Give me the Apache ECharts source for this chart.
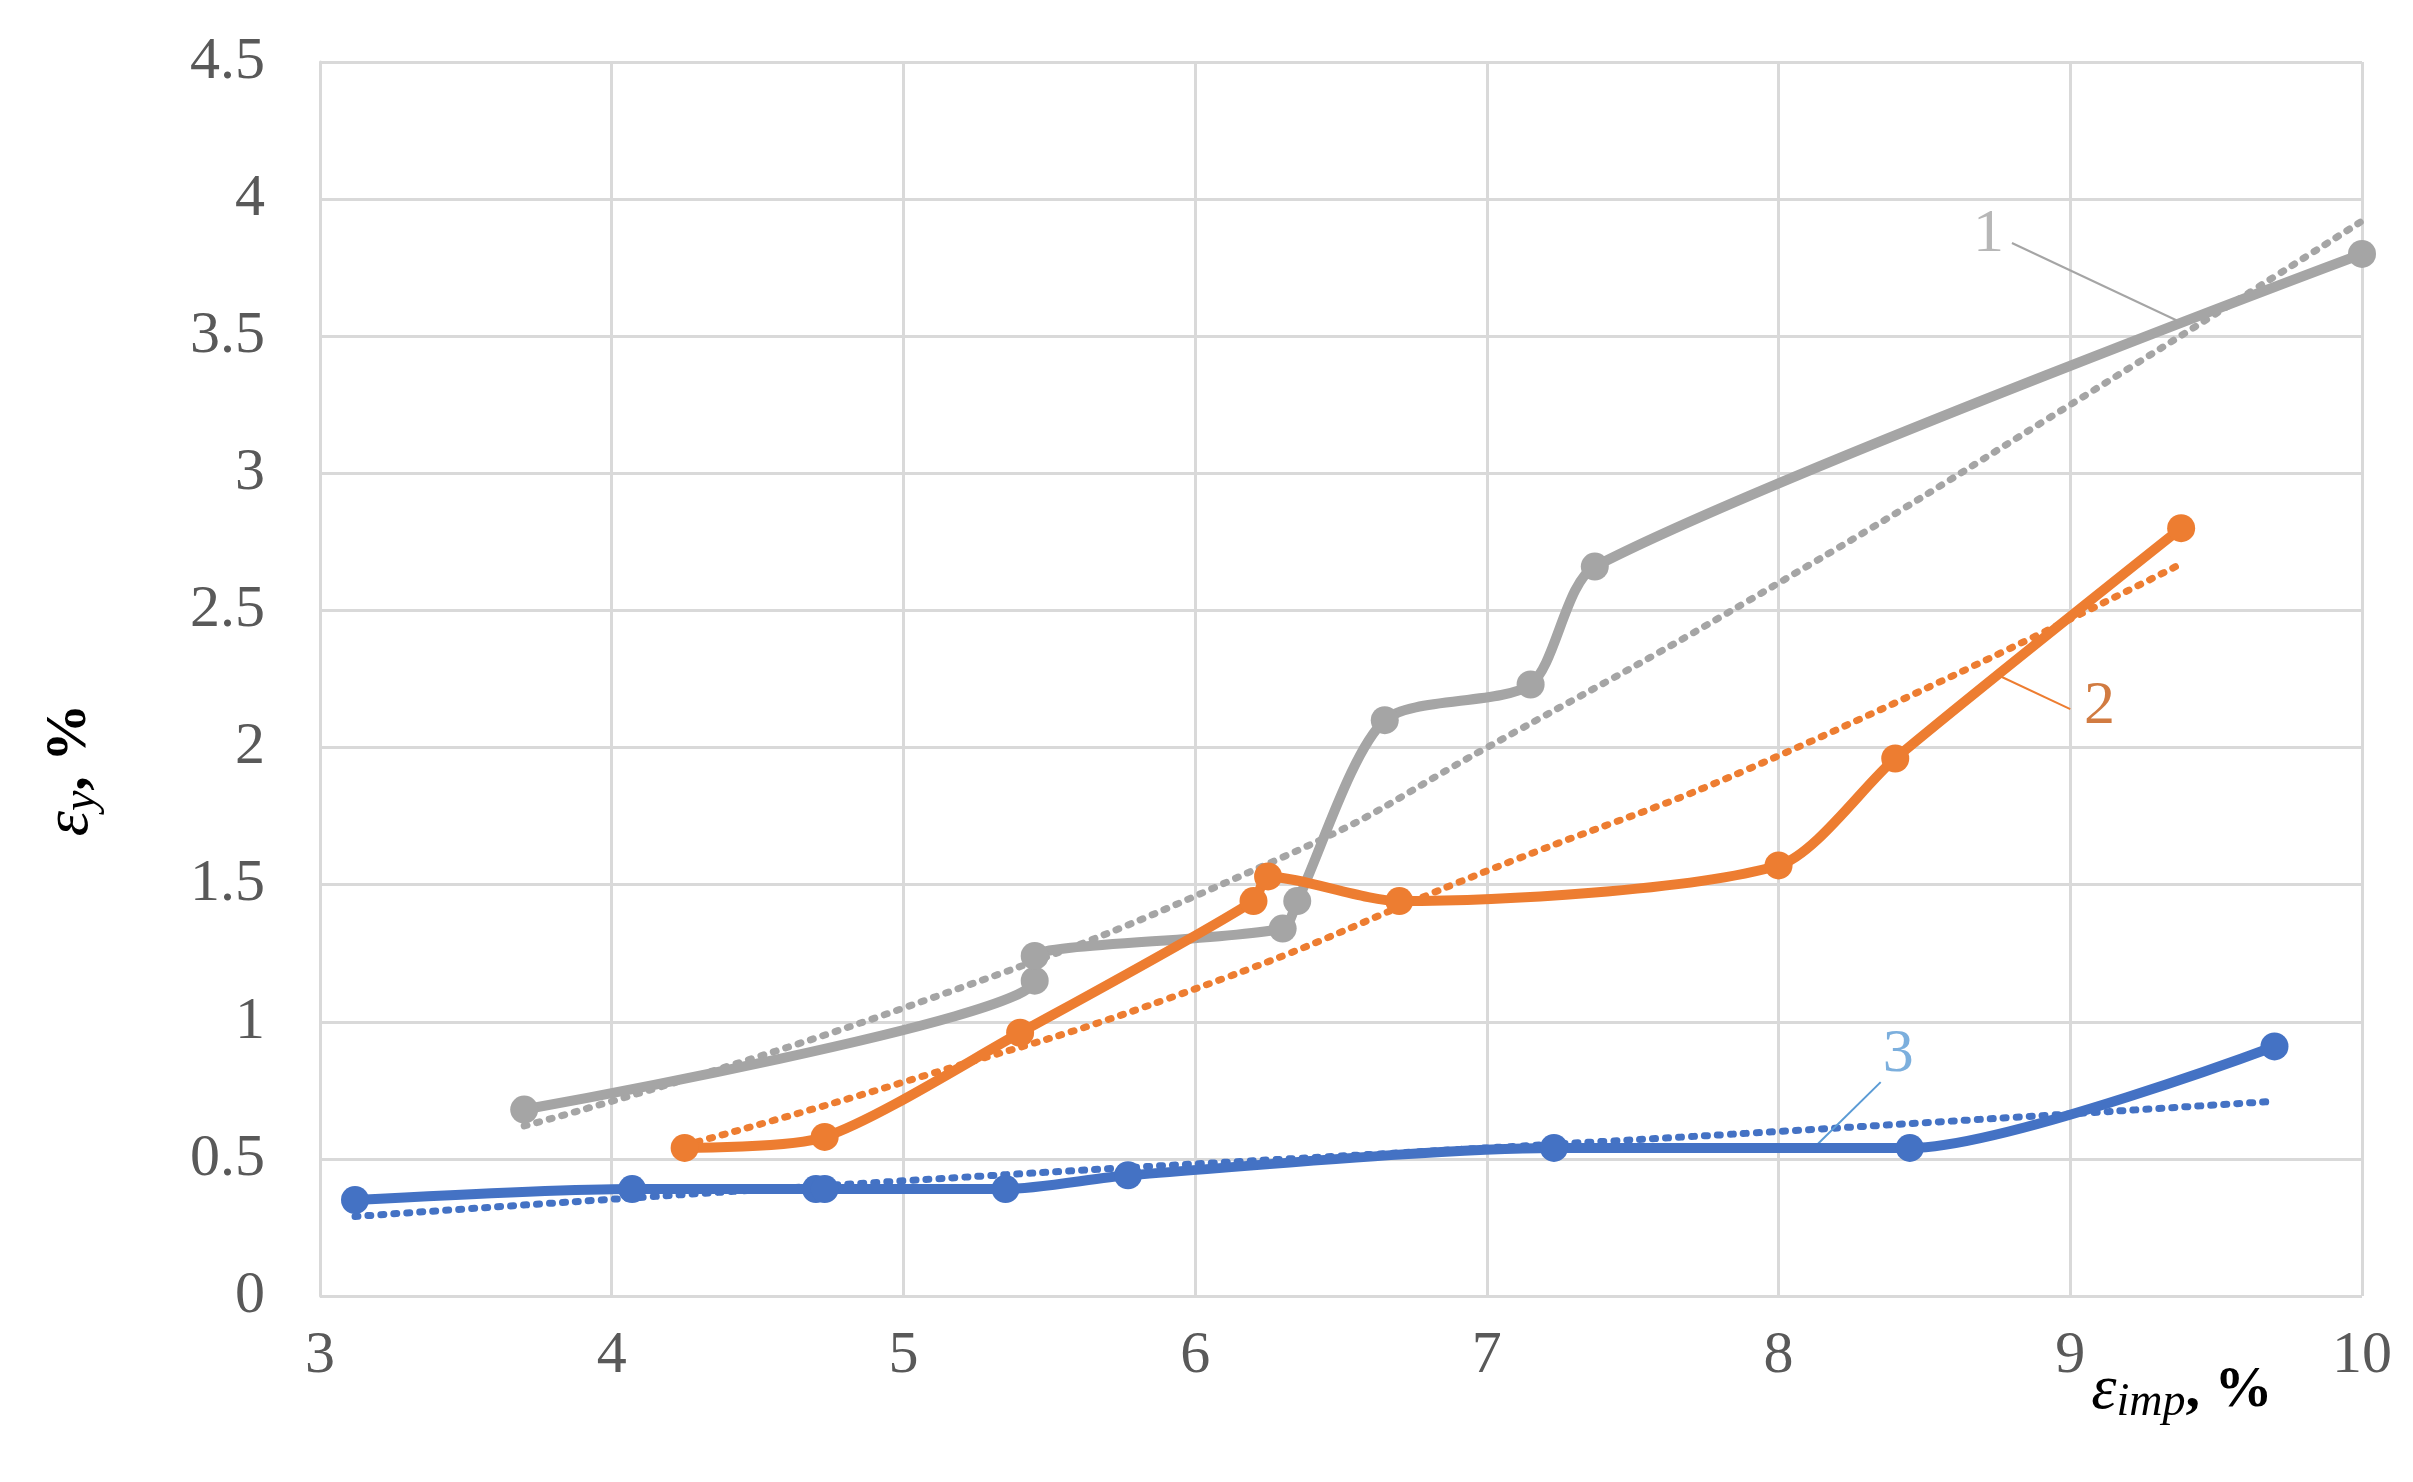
<!DOCTYPE html><html><head><meta charset="utf-8"><script src="https://cdn.jsdelivr.net/npm/echarts@6/dist/echarts.min.js"></script>
<style>html,body{margin:0;background:#fff}#c{width:2413px;height:1482px}</style></head><body><div id="c"></div><script>
const xTicks=[3,4,5,6,7,8,9,10];
const s1=[[3.7,0.68],[5.45,1.15],[5.45,1.24],[6.3,1.34],[6.35,1.44],[6.65,2.1],[7.15,2.23],[7.37,2.66],[10,3.8]];
const s2=[[4.25,0.54],[4.73,0.58],[5.4,0.96],[6.2,1.44],[6.25,1.53],[6.7,1.44],[8,1.57],[8.4,1.96],[9.38,2.8]];
const s3=[[3.12,0.35],[4.07,0.39],[4.7,0.39],[4.73,0.39],[5.35,0.39],[5.77,0.44],[7.23,0.54],[8.45,0.54],[9.7,0.91]];
const t1=[[3.7,0.62],[5,1.05],[6.3,1.6],[7,2.0],[8,2.6],[9,3.25],[10,3.92]];
const t2=[[4.25,0.55],[5,0.78],[6,1.12],[7,1.55],[8,1.97],[9.38,2.67]];
const t3=[[3.12,0.29],[5,0.42],[7,0.54],[8,0.6],[9.7,0.71]];
const lead1=[[8.8,3.84],[9.38,3.55]];
const lead2=[[8.74,2.27],[9.0,2.14]];
const lead3=[[8.35,0.78],[8.13,0.55]];
const names=[{x:8.72,y:3.87,t:'1',c:'#a5a5a5'},{x:9.1,y:2.15,t:'2',c:'#c55a11'},{x:8.41,y:0.88,t:'3',c:'#5b9bd5'}];
const G='#a5a5a5',O='#ed7d31',B='#4472c4';
const font='"Liberation Serif","Times New Roman",serif';
function main(d,c){return{type:'line',data:d,smooth:0.25,symbol:'circle',symbolSize:28,lineStyle:{color:c,width:10},itemStyle:{color:c},z:3};}
function trend(d,c){return{type:'line',data:d,smooth:0.5,symbol:'none',lineStyle:{color:c,width:7,type:[3,10],cap:'round'},z:2};}
function lead(d,c){return{type:'line',data:d,symbol:'none',lineStyle:{color:c,width:2},z:2};}
const rich={i:{fontFamily:font,fontStyle:'italic',fontSize:64,color:'#000'},s:{fontFamily:font,fontStyle:'italic',fontSize:46,color:'#000',padding:[24,0,0,0]},n:{fontFamily:font,fontSize:58,fontWeight:'bold',color:'#000'}};
const ch=echarts.init(document.getElementById('c'));
ch.setOption({animation:false,
grid:{left:320,right:51,top:62,bottom:186},
graphic:[{type:'text',x:70,y:770,rotation:Math.PI/2,style:{text:'{i|ε}{s|y}{n|, %}',rich:rich,align:'center',verticalAlign:'middle'}}],
xAxis:{type:'value',min:3,max:10,interval:1,axisLine:{show:false},axisTick:{show:false},
 splitLine:{lineStyle:{color:'#d9d9d9',width:3}},axisLabel:{fontFamily:font,fontSize:60,color:'#595959',margin:30},
 name:'{i|ε}{s|imp}{n|, %}',nameLocation:'end',nameGap:0,
 nameTextStyle:{padding:[190,0,0,-330],rich:rich}},
yAxis:{type:'value',min:0,max:4.5,interval:0.5,axisLine:{show:true,lineStyle:{color:'#d9d9d9',width:3}},axisTick:{show:false},
 splitLine:{lineStyle:{color:'#d9d9d9',width:3}},axisLabel:{fontFamily:font,fontSize:60,color:'#595959',margin:55,formatter:v=>String(v)}},
series:[trend(t1,G),trend(t2,O),trend(t3,B),main(s1,G),main(s2,O),main(s3,B),lead(lead1,'#a5a5a5'),lead(lead2,O),lead(lead3,'#5b9bd5'),
{type:'scatter',symbolSize:0,data:names.map(n=>({value:[n.x,n.y],label:{show:true,formatter:n.t,color:n.c,fontFamily:font,fontSize:62,position:'inside'}})),z:5}]
});
</script></body></html>
